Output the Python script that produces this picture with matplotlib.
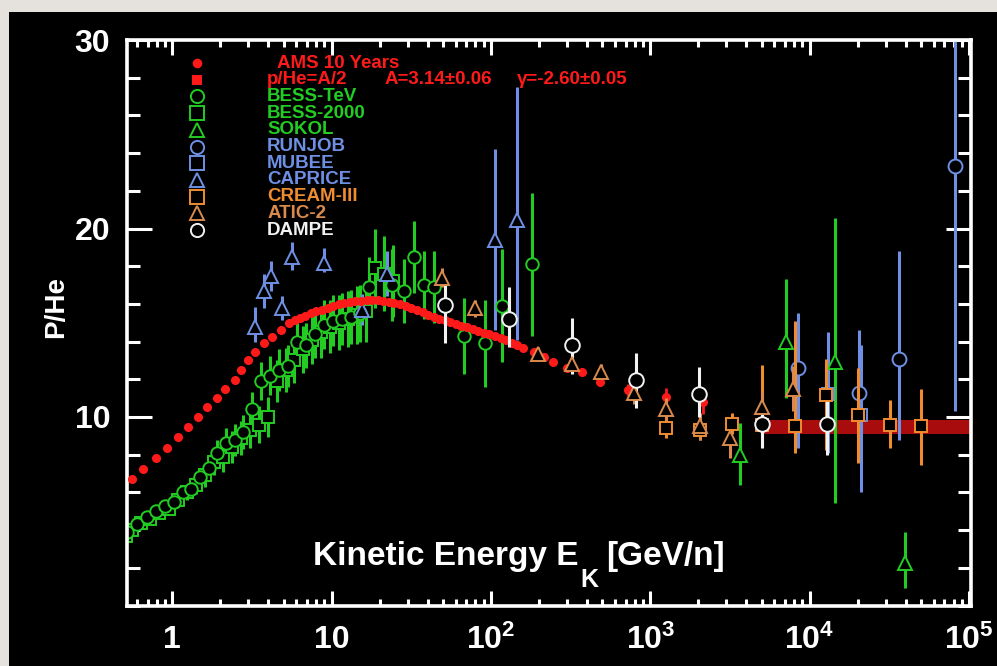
import numpy as np
import matplotlib
matplotlib.use('Agg')
import matplotlib.pyplot as plt
from matplotlib.patches import Rectangle
from matplotlib.ticker import FixedLocator, FuncFormatter, LogLocator, MultipleLocator, NullFormatter

plt.rcParams['font.family'] = ['Liberation Sans', 'DejaVu Sans']
plt.rcParams['font.weight'] = 'bold'
plt.rcParams['mathtext.fontset'] = 'custom'
plt.rcParams['mathtext.rm'] = 'Liberation Sans:bold'
plt.rcParams['mathtext.bf'] = 'Liberation Sans:bold'
plt.rcParams['mathtext.default'] = 'bf'

# AMS 10 years p/He vs kinetic energy per nucleon [GeV/n]
ams_e = [0.56, 0.66, 0.787, 0.93, 1.08, 1.25, 1.45, 1.66, 1.9, 2.14, 2.47, 2.72, 2.98,
         3.33, 3.76, 4.24, 4.78, 5.4, 5.9, 6.3, 6.84, 7.41, 8.04, 8.71, 9.44, 10.2, 11.1,
         12.0, 13.0, 14.1, 15.3, 16.6, 18.0, 19.5, 21.1, 22.9, 24.8, 26.9, 29.2, 31.6, 34.3,
         37.2, 40.3, 43.7, 47.3, 51.3, 55.6, 60.3, 65.3, 70.8, 76.7, 83.2, 90.2, 97.7, 106,
         115, 124, 135, 146, 160, 185, 215, 246, 300, 372, 487, 730, 1260, 2150]
ams_r = [6.71, 7.24, 7.8, 8.34, 8.96, 9.49, 10.0, 10.55, 11.0, 11.47, 11.96, 12.5, 13.0,
         13.46, 13.9, 14.26, 14.6, 14.97, 15.15, 15.25, 15.38, 15.5, 15.6, 15.7, 15.8, 15.9, 15.98,
         16.05, 16.1, 16.15, 16.18, 16.2, 16.21, 16.2, 16.17, 16.12, 16.05, 15.97, 15.87, 15.77, 15.66,
         15.55, 15.43, 15.32, 15.22, 15.14, 15.05, 14.95, 14.85, 14.75, 14.65, 14.57, 14.48, 14.38, 14.28,
         14.18, 14.08, 13.95, 13.8, 13.64, 13.46, 13.2, 12.93, 12.58, 12.4, 11.87, 11.43, 11.08, 10.8]
ams_err = [0.0] * 65 + [0.25, 0.3, 0.45, 0.65]

# p/He = A/2 fit band at high energy
band_e = [5000, 103000]
band_lo = [9.1, 9.1]
band_hi = [9.85, 9.85]

# BESS-TeV
bt_e = [0.52, 0.60, 0.69, 0.79, 0.90, 1.02, 1.16, 1.31, 1.49, 1.69, 1.91, 2.17, 2.46, 2.79,
        3.18, 3.62, 4.12, 4.69, 5.33, 6.06, 6.9, 7.85, 8.93, 10.2, 11.6, 13.2, 15.0, 17.1,
        24.0, 28.3, 32.7, 38.0, 43.7, 67.7, 92.0, 117, 181]
bt_r = [3.9, 4.3, 4.7, 5.0, 5.3, 5.5, 6.0, 6.2, 6.8, 7.3, 8.1, 8.6, 8.8, 9.2,
        10.4, 11.9, 12.2, 12.5, 12.7, 14.0, 13.8, 14.4, 14.9, 15.1, 15.2, 15.3, 15.5, 16.9,
        17.0, 16.7, 18.5, 17.0, 16.9, 14.3, 13.9, 15.9, 18.1]
bt_err = [0.15, 0.15, 0.2, 0.2, 0.25, 0.3, 0.35, 0.4, 0.5, 0.6, 0.7, 0.8, 0.85, 0.9,
          0.95, 1.0, 1.05, 1.1, 1.1, 1.15, 1.2, 1.25, 1.3, 1.35, 1.4, 1.45, 1.5, 1.6,
          1.9, 1.7, 1.9, 1.8, 1.9, 2.0, 2.3, 3.0, 3.8]

# BESS-2000
b2_e = [0.51, 0.56, 0.64, 0.73, 0.83, 0.95, 1.08, 1.23, 1.40, 1.60, 1.82, 2.07, 2.36, 2.69,
        3.06, 3.49, 3.97, 4.52, 5.14, 5.85, 6.66, 7.58, 8.63, 9.82, 11.2, 12.7, 14.5, 16.5,
        18.8, 21.4, 24.4]
b2_r = [3.7, 4.0, 4.4, 4.6, 4.9, 5.1, 5.6, 6.0, 6.4, 6.9, 7.6, 7.9, 8.4, 8.9,
        9.3, 9.6, 10.0, 11.9, 12.5, 13.0, 13.6, 14.1, 14.5, 14.8, 15.0, 15.2, 15.4, 15.6,
        17.9, 17.6, 17.2]
b2_err = [0.15, 0.15, 0.2, 0.2, 0.25, 0.3, 0.35, 0.4, 0.5, 0.6, 0.7, 0.8, 0.85, 0.9,
          0.95, 1.0, 1.05, 1.1, 1.15, 1.2, 1.25, 1.3, 1.35, 1.4, 1.45, 1.5, 1.55, 1.6,
          2.1, 2.0, 1.9]

# SOKOL
sk_e = [3640, 7100, 14500, 39700]
sk_r = [7.98, 14.0, 12.93, 2.24]
sk_lo = [6.4, 11.0, 5.44, 0.93]
sk_hi = [9.68, 17.3, 20.55, 3.9]

# RUNJOB
rj_e = [8450, 20300, 36600, 81500]
rj_r = [12.58, 11.26, 13.1, 23.3]
rj_lo = [8.36, 8.0, 8.78, 10.3]
rj_hi = [15.5, 14.6, 18.8, 32.0]

# MUBEE
mb_e = [13000, 21000]
mb_r = [11.2, 10.1]
mb_lo = [8.1, 6.04]
mb_hi = [14.5, 13.8]

# CAPRICE
cp_e = [3.33, 3.76, 4.14, 4.9, 5.67, 8.94, 15.5, 22.3, 106, 146]
cp_r = [14.8, 16.7, 17.5, 15.8, 18.5, 18.15, 15.7, 17.6, 19.4, 20.45]
cp_lo = [14.0, 15.8, 16.7, 15.15, 17.8, 17.7, 14.9, 16.4, 14.6, 14.1]
cp_hi = [15.85, 17.6, 18.3, 16.4, 19.3, 18.97, 16.5, 18.8, 24.2, 27.5]

# CREAM-III
cr_e = [1260, 2050, 3250, 5000, 8100, 12700, 20000, 31800, 50000]
cr_r = [9.4, 9.3, 9.62, 9.58, 9.52, 11.17, 10.1, 9.58, 9.52]
cr_lo = [8.9, 8.8, 9.1, 8.4, 8.1, 8.25, 7.55, 8.35, 7.45]
cr_hi = [9.9, 9.8, 10.2, 12.75, 15.1, 13.1, 12.6, 10.9, 11.5]

# ATIC-2
at_e = [49.3, 79.6, 197, 322, 490, 785, 1260, 2050, 3170, 5000, 7900]
at_r = [17.4, 15.77, 13.35, 12.8, 12.4, 11.25, 10.4, 9.5, 8.87, 10.55, 11.5]
at_lo = [16.9, 15.3, 13.0, 12.5, 12.0, 10.7, 9.8, 8.8, 7.8, 9.7, 10.3]
at_hi = [17.9, 16.2, 13.7, 13.1, 12.8, 11.8, 11.0, 10.2, 9.7, 11.4, 12.7]

# DAMPE
dm_e = [51.6, 129, 322, 815, 2020, 5000, 12800]
dm_r = [15.95, 15.2, 13.8, 11.96, 11.2, 9.63, 9.63]
dm_lo = [13.9, 13.7, 12.3, 10.5, 10.0, 8.36, 7.98]
dm_hi = [17.4, 16.9, 15.25, 13.4, 12.67, 10.74, 11.08]

red = '#ff1a1a'
green = '#22cc22'
blue = '#6e8fe4'
orange = '#f08c30'
tan = '#d98a4c'
white = '#f2f2f2'

legend_rows = [
    ('AMS 10 Years', red, 'o', True),
    ('p/He=A/2', red, 's', True),
    ('BESS-TeV', green, 'o', False),
    ('BESS-2000', green, 's', False),
    ('SOKOL', green, '^', False),
    ('RUNJOB', blue, 'o', False),
    ('MUBEE', blue, 's', False),
    ('CAPRICE', blue, '^', False),
    ('CREAM-III', orange, 's', False),
    ('ATIC-2', tan, '^', False),
    ('DAMPE', white, 'o', False),
]

fig = plt.figure(figsize=(9.97, 6.66), dpi=100, facecolor='#e5e1dc')
fig.patches.append(Rectangle((9 / 997, 0), 1, 1 - 12 / 666, transform=fig.transFigure,
                             facecolor='black', edgecolor='none', zorder=-10))
ax = fig.add_axes([127 / 997, 60.5 / 666, 844 / 997, 565.5 / 666])
ax.set_zorder(1)
ax.set_facecolor('black')


def plot_set(e, r, lo, hi, color, marker, ms, z):
    e = np.asarray(e, dtype=float)
    r = np.asarray(r, dtype=float)
    yerr = np.vstack([r - np.asarray(lo), np.asarray(hi) - r])
    ax.errorbar(e, r, yerr=yerr, fmt=marker, ms=ms, mfc='black', mec=color, mew=1.4,
                ecolor=color, elinewidth=2.2, capsize=0, zorder=z)


ax.fill_between(band_e, band_lo, band_hi, color='#a80c0c', lw=0, zorder=1)

b2r = np.array(b2_r)
btr = np.array(bt_r)
plot_set(b2_e, b2r, b2r - np.array(b2_err), b2r + np.array(b2_err), green, 's', 8.5, 2)
plot_set(bt_e, btr, btr - np.array(bt_err), btr + np.array(bt_err), green, 'o', 9, 2)
plot_set(sk_e, sk_r, sk_lo, sk_hi, green, '^', 10, 2)
plot_set(cp_e, cp_r, cp_lo, cp_hi, blue, '^', 10, 2)
plot_set(rj_e, rj_r, rj_lo, rj_hi, blue, 'o', 10, 2)
plot_set(mb_e, mb_r, mb_lo, mb_hi, blue, 's', 9, 2)

ax.errorbar(ams_e, ams_r, yerr=ams_err, fmt='o', ms=5.5, color=red, mec=red,
            elinewidth=2, capsize=0, zorder=4)

plot_set(cr_e, cr_r, cr_lo, cr_hi, orange, 's', 9, 5)
plot_set(at_e, at_r, at_lo, at_hi, tan, '^', 10, 5)
plot_set(dm_e, dm_r, dm_lo, dm_hi, white, 'o', 10.5, 5)

ax.set_xscale('log')
ax.set_xlim(0.52, 1.03e5)
ax.set_ylim(0, 30)


def fmt_e(v, pos):
    p = int(round(np.log10(v)))
    if p <= 1:
        return str(int(round(v)))
    return r'10$^{%d}$' % p


ax.xaxis.set_major_locator(LogLocator(base=10, numticks=10))
ax.xaxis.set_minor_locator(LogLocator(base=10, subs=np.arange(2, 10), numticks=20))
ax.xaxis.set_minor_formatter(NullFormatter())
ax.xaxis.set_major_formatter(FuncFormatter(fmt_e))
ax.yaxis.set_major_locator(FixedLocator([10, 20, 30]))
ax.yaxis.set_minor_locator(MultipleLocator(2))

ax.tick_params(which='both', direction='in', colors='white', top=True, right=True, width=2.2)
ax.tick_params(axis='x', which='major', length=11, pad=14, labelsize=23)
ax.tick_params(axis='x', which='minor', length=5)
ax.tick_params(axis='y', which='major', length=18, pad=12, labelsize=23)
ax.tick_params(axis='y', which='minor', length=9.5)
for s in ax.spines.values():
    s.set_color('white')
    s.set_linewidth(2.6)

ax.set_ylabel('P/He', color='white', fontsize=20, fontweight='bold')
ax.yaxis.set_label_coords(-0.068, 0.528)

# axis title sits inside the frame
t1 = ax.text(0.2204, 0.0716, 'Kinetic Energy E', transform=ax.transAxes, color='white',
             fontsize=24, fontweight='bold', ha='left', va='baseline')
t2 = ax.annotate('K', xy=(1, 0), xycoords=t1, xytext=(1, 3), textcoords='offset points',
                 color='white', fontsize=18, fontweight='bold', ha='left', va='top')
ax.annotate('[GeV/n]', xy=(1, 0), xycoords=(t2, t1), xytext=(6, 0), textcoords='offset points',
            color='white', fontsize=24, fontweight='bold', ha='left', va='bottom')

# legend column
row0, step = 0.9593, 0.02953
leg_font = dict(fontsize=13.5, fontweight='bold', ha='left', va='center')
for i, (label, color, marker, filled) in enumerate(legend_rows):
    y = row0 - i * step
    ms = 5.5 if filled else 9.5
    ax.plot([0.083], [y], transform=ax.transAxes, marker=marker, ms=ms, ls='none',
            mfc=color if filled else 'none', mec=color, mew=1.4, clip_on=False, zorder=6)
    tx = 0.178 if i == 0 else 0.166
    ax.text(tx, y, label, transform=ax.transAxes, color=color, zorder=6, **leg_font)
    if i == 1:
        ax.text(0.3057, y, 'A=3.14\u00b10.06', transform=ax.transAxes, color=color, **leg_font)
        ax.text(0.4621, y, '\u03b3=-2.60\u00b10.05', transform=ax.transAxes, color=color,
                **leg_font)

fig.savefig('out.png', dpi=100, facecolor=fig.get_facecolor())
